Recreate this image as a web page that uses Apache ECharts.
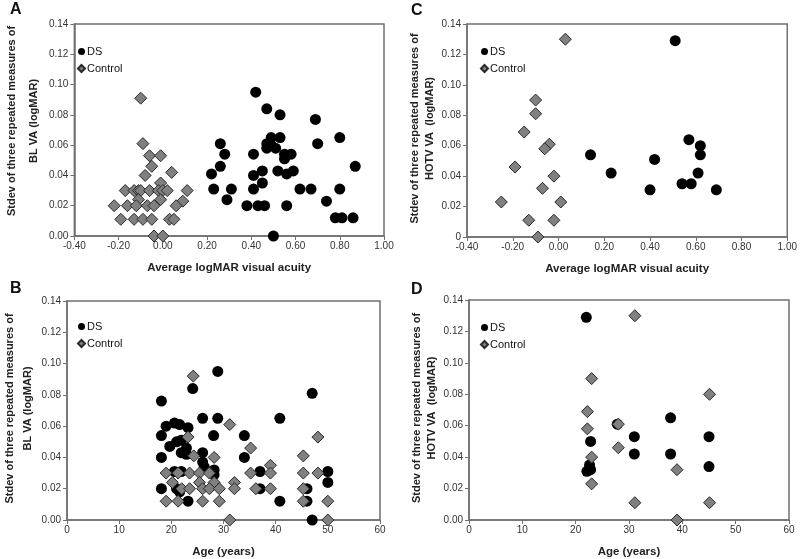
<!DOCTYPE html>
<html>
<head>
<meta charset="utf-8">
<script src="https://cdn.jsdelivr.net/npm/echarts@6/dist/echarts.min.js"></script>
<style>
  html, body { margin: 0; padding: 0; background: #fff; }
  #chart { width: 800px; height: 559px; }
</style>
</head>
<body>
<div id="chart"></div>
<script>
  // panel A: stdev vs average logMAR (BL VA)
  var aDS = [
    [0.42, 0.095], [0.47, 0.084], [0.53, 0.080], [0.69, 0.077], [0.80, 0.065], [0.70, 0.061],
    [0.49, 0.065], [0.53, 0.065], [0.47, 0.061], [0.49, 0.060], [0.51, 0.058], [0.47, 0.058],
    [0.26, 0.061], [0.28, 0.054], [0.26, 0.046], [0.22, 0.041], [0.23, 0.031], [0.29, 0.024], [0.31, 0.031],
    [0.41, 0.054], [0.55, 0.054], [0.58, 0.054], [0.55, 0.051],
    [0.45, 0.043], [0.41, 0.040], [0.52, 0.043], [0.56, 0.041], [0.59, 0.043],
    [0.45, 0.035], [0.41, 0.031], [0.62, 0.031], [0.67, 0.031], [0.80, 0.031],
    [0.38, 0.020], [0.43, 0.020], [0.46, 0.020], [0.56, 0.020], [0.74, 0.023],
    [0.78, 0.012], [0.81, 0.012], [0.86, 0.012], [0.87, 0.046], [0.50, 0.000]
  ];
  var aCtrl = [
    [-0.10, 0.091], [-0.09, 0.061], [-0.06, 0.053], [-0.01, 0.053], [-0.05, 0.046], [-0.08, 0.040], [0.04, 0.042], [-0.01, 0.035],
    [-0.17, 0.030], [-0.13, 0.030], [-0.11, 0.030], [-0.10, 0.030], [-0.06, 0.030], [-0.02, 0.030], [0.00, 0.030], [0.02, 0.030], [0.11, 0.030],
    [-0.11, 0.024], [-0.01, 0.024], [0.09, 0.023],
    [-0.22, 0.020], [-0.16, 0.020], [-0.12, 0.020], [-0.07, 0.020], [-0.04, 0.020], [0.06, 0.020],
    [-0.19, 0.011], [-0.13, 0.011], [-0.09, 0.011], [-0.05, 0.011], [0.03, 0.011], [0.05, 0.011],
    [-0.04, 0.000], [0.00, 0.000]
  ];
  // panel B: stdev vs age (BL VA)
  var bDS = [
    [18.1, 0.076], [28.9, 0.095], [24.1, 0.084], [26.0, 0.065], [28.9, 0.065], [40.8, 0.065], [47.0, 0.081],
    [18.1, 0.054], [19.0, 0.060], [20.6, 0.062], [21.6, 0.061], [23.2, 0.059], [19.7, 0.047], [21.0, 0.050], [21.9, 0.051], [22.9, 0.046],
    [28.1, 0.054], [34.0, 0.054],
    [18.1, 0.040], [21.9, 0.043], [22.9, 0.042], [26.0, 0.043], [26.0, 0.037], [34.0, 0.040],
    [20.6, 0.031], [21.9, 0.031], [26.3, 0.034], [28.2, 0.032], [28.2, 0.029], [37.0, 0.031], [50.0, 0.031], [50.0, 0.024],
    [18.1, 0.020], [21.0, 0.020], [21.6, 0.018], [37.0, 0.020], [46.0, 0.020],
    [23.2, 0.012], [40.8, 0.012], [46.0, 0.012], [47.0, 0.000]
  ];
  var bCtrl = [
    [24.2, 0.092], [31.2, 0.061], [23.2, 0.053], [35.2, 0.046], [24.3, 0.041], [28.2, 0.040], [39.0, 0.035], [45.3, 0.041], [48.1, 0.053],
    [19.0, 0.030], [21.3, 0.030], [23.5, 0.030], [25.4, 0.030], [27.3, 0.030], [35.2, 0.030], [39.0, 0.030], [45.3, 0.030], [48.1, 0.030],
    [20.2, 0.024], [25.4, 0.024], [28.2, 0.024], [32.1, 0.024],
    [22.0, 0.020], [23.5, 0.020], [26.0, 0.020], [27.3, 0.020], [29.2, 0.020], [32.1, 0.020], [36.2, 0.020], [39.0, 0.020], [45.3, 0.020],
    [19.0, 0.012], [21.3, 0.012], [26.0, 0.012], [29.2, 0.012], [45.3, 0.012], [50.0, 0.012],
    [31.2, 0.000], [50.0, 0.000]
  ];
  // panel C: stdev vs average logMAR (HOTV VA)
  var cDS = [
    [0.14, 0.054], [0.23, 0.042], [0.40, 0.031], [0.42, 0.051], [0.51, 0.129], [0.57, 0.064],
    [0.62, 0.060], [0.62, 0.054], [0.61, 0.042], [0.54, 0.035], [0.58, 0.035], [0.69, 0.031]
  ];
  var cCtrl = [
    [0.03, 0.130], [-0.10, 0.090], [-0.10, 0.081], [-0.15, 0.069], [-0.04, 0.061], [-0.06, 0.058], [-0.19, 0.046],
    [-0.02, 0.040], [-0.07, 0.032], [-0.25, 0.023], [0.01, 0.023], [-0.13, 0.011], [-0.02, 0.011], [-0.09, 0.000]
  ];
  // panel D: stdev vs age (HOTV VA)
  var dDS = [
    [22.0, 0.129], [22.8, 0.050], [22.1, 0.031], [22.8, 0.032], [22.6, 0.035], [27.8, 0.061],
    [31.0, 0.053], [31.0, 0.042], [37.8, 0.065], [37.8, 0.042], [45.0, 0.053], [45.0, 0.034]
  ];
  var dCtrl = [
    [31.1, 0.130], [23.0, 0.090], [45.1, 0.080], [22.2, 0.069], [22.2, 0.058], [28.0, 0.061], [28.0, 0.046],
    [23.0, 0.040], [39.0, 0.032], [23.0, 0.023], [31.1, 0.011], [45.1, 0.011], [39.0, 0.000]
  ];

  var yTitleBL = 'Stdev of three repeated measures of\nBL VA (logMAR)';
  var yTitleHOTV = 'Stdev of three repeated measures of\nHOTV VA  (logMAR)';
  var xTitleVA = 'Average logMAR visual acuity';
  var xTitleAge = 'Age (years)';

  var font = 'Liberation Sans, Arial, sans-serif';
  var axisCol = '#707070';

  function xAx(idx, name, min, max, step, fmt) {
    return {
      gridIndex: idx, type: 'value', min: min, max: max, interval: step,
      name: name, nameLocation: 'middle', nameGap: 26,
      nameTextStyle: { fontFamily: font, fontSize: 11.5, fontWeight: 'bold', color: '#222' },
      axisLine: { onZero: false, lineStyle: { color: axisCol, width: 1.5 } },
      axisTick: { length: 4, lineStyle: { color: axisCol } },
      axisLabel: { fontFamily: font, fontSize: 10, color: '#333', margin: 5, formatter: fmt },
      splitLine: { show: false }
    };
  }
  function yAx(idx, name, gap, lh, shift, zeroLabel) {
    return {
      gridIndex: idx, type: 'value', min: 0, max: 0.14, interval: 0.02,
      name: name, nameLocation: 'middle', nameGap: gap,
      nameTextStyle: { fontFamily: font, fontSize: 11, fontWeight: 'bold', color: '#222', lineHeight: lh, padding: [0, 0, 0, shift] },
      axisLine: { onZero: false, lineStyle: { color: axisCol, width: 1.5 } },
      axisTick: { length: 4, lineStyle: { color: axisCol } },
      axisLabel: {
        fontFamily: font, fontSize: 10, color: '#333', margin: 6,
        formatter: function (v) { return v === 0 ? zeroLabel : v.toFixed(2); }
      },
      splitLine: { show: false }
    };
  }
  var fmt2 = function (v) { return v.toFixed(2); };
  var fmt0 = function (v) { return String(v); };

  function dsSeries(i, data) {
    return {
      name: 'DS', type: 'scatter', xAxisIndex: i, yAxisIndex: i, data: data,
      symbol: 'circle', symbolSize: 11, clip: false,
      itemStyle: { color: '#000', opacity: 1 }
    };
  }
  function ctrlSeries(i, data) {
    return {
      name: 'Control', type: 'scatter', xAxisIndex: i, yAxisIndex: i, data: data,
      symbol: 'diamond', symbolSize: 12, clip: false,
      itemStyle: { color: '#808080', borderColor: '#2a2a2a', borderWidth: 1, opacity: 1 }
    };
  }
  function legendAt(left, top) {
    return {
      orient: 'vertical', left: left, top: top, itemWidth: 7, itemHeight: 7, itemGap: 4,
      selectedMode: false,
      textStyle: { fontFamily: font, fontSize: 11, color: '#111', lineHeight: 13, padding: [0, 0, 0, -3] },
      data: [{ name: 'DS', icon: 'circle' }, { name: 'Control', icon: 'diamond' }]
    };
  }
  function letter(txt, x, y) {
    return { type: 'text', left: x, top: y, style: { text: txt, fontFamily: font, fontSize: 16, fontWeight: 'bold', fill: '#111' } };
  }

  var chart = echarts.init(document.getElementById('chart'));
  chart.setOption({
    backgroundColor: '#fff',
    animation: false,
    grid: [
      { left: 64, top: 24, width: 320, height: 212, show: true, borderColor: axisCol, borderWidth: 1.5 },
      { left: 65, top: 301, width: 315, height: 219, show: true, borderColor: axisCol, borderWidth: 1.5 },
      { left: 467, top: 24, width: 324, height: 213, show: true, borderColor: axisCol, borderWidth: 1.5 },
      { left: 469, top: 300, width: 320, height: 221, show: true, borderColor: axisCol, borderWidth: 1.5 }
    ],
    xAxis: [
      xAx(0, xTitleVA, -0.4, 1.0, 0.2, fmt2),
      xAx(1, xTitleAge, 0, 60, 10, fmt0),
      xAx(2, xTitleVA, -0.4, 1.0, 0.2, fmt2),
      xAx(3, xTitleAge, 0, 60, 10, fmt0)
    ],
    yAxis: [
      yAx(0, yTitleBL, 21, 22, 18, '0.00'),
      yAx(1, yTitleBL, 30, 18, 4, '0.00'),
      yAx(2, yTitleHOTV, 27, 15, 4, '0'),
      yAx(3, yTitleHOTV, 25, 15, 4, '0.00')
    ],
    legend: [legendAt(72, 40), legendAt(72, 315), legendAt(475, 40), legendAt(475, 316)],
    graphic: [letter('A', 10, 2), letter('B', 10, 281), letter('C', 411, 3), letter('D', 411, 282)],
    series: [
      dsSeries(0, aDS), ctrlSeries(0, aCtrl),
      dsSeries(1, bDS), ctrlSeries(1, bCtrl),
      dsSeries(2, cDS), ctrlSeries(2, cCtrl),
      dsSeries(3, dDS), ctrlSeries(3, dCtrl)
    ]
  });
</script>
</body>
</html>
